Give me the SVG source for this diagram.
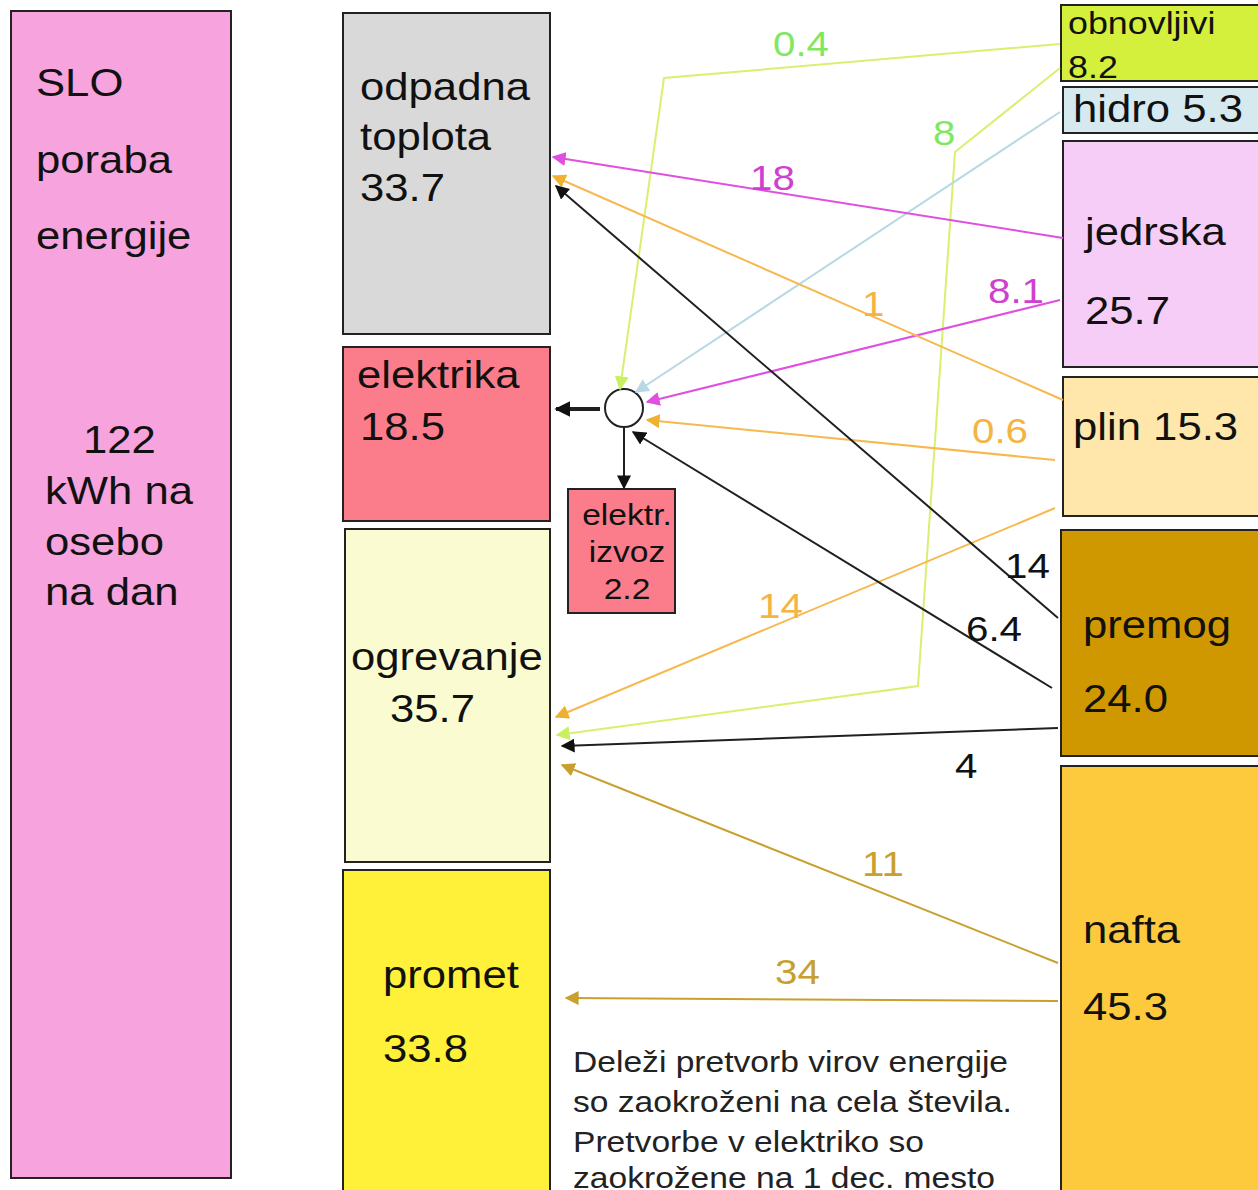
<svg xmlns="http://www.w3.org/2000/svg" width="1258" height="1190" viewBox="0 0 1258 1190">
<style>
.box{stroke:#222;stroke-width:2}
text{font-family:"Liberation Sans",Arial,sans-serif;fill:#111}
.big{font-size:39px}
.mid{font-size:30px}
.lbl{font-size:36px}
.ln{fill:none;stroke-width:2}
.g{stroke:#d8f070}
.b{stroke:#b8d8e4}
.m{stroke:#e050e0}
.o{stroke:#f8b850}
.k{stroke:#202020}
.n{stroke:#c8a030}
</style>
<defs>
<marker id="aB" viewBox="0 0 10 10" refX="9" refY="5" markerWidth="14" markerHeight="14" orient="auto" markerUnits="userSpaceOnUse"><path d="M0,0L10,5L0,10z" fill="#b8d8e4"/></marker>
<marker id="aM" viewBox="0 0 10 10" refX="9" refY="5" markerWidth="14" markerHeight="14" orient="auto" markerUnits="userSpaceOnUse"><path d="M0,0L10,5L0,10z" fill="#e050e0"/></marker>
<marker id="aO" viewBox="0 0 10 10" refX="9" refY="5" markerWidth="14" markerHeight="14" orient="auto" markerUnits="userSpaceOnUse"><path d="M0,0L10,5L0,10z" fill="#f0b030"/></marker>
<marker id="aK" viewBox="0 0 10 10" refX="9" refY="5" markerWidth="14" markerHeight="14" orient="auto" markerUnits="userSpaceOnUse"><path d="M0,0L10,5L0,10z" fill="#111"/></marker>
<marker id="aK2" viewBox="0 0 10 10" refX="9" refY="5" markerWidth="16" markerHeight="16" orient="auto" markerUnits="userSpaceOnUse"><path d="M0,0L10,5L0,10z" fill="#111"/></marker>
<marker id="aN" viewBox="0 0 10 10" refX="9" refY="5" markerWidth="14" markerHeight="14" orient="auto" markerUnits="userSpaceOnUse"><path d="M0,0L10,5L0,10z" fill="#c8a030"/></marker>
<marker id="aGL" viewBox="0 0 10 10" refX="9" refY="5" markerWidth="14" markerHeight="14" orient="auto" markerUnits="userSpaceOnUse"><path d="M0,0L10,5L0,10z" fill="#c8f060"/></marker>
</defs>

<g id="slo">
<rect class="box" x="11" y="11" width="220" height="1167" fill="#f7a3dd"/>
<text class="big" transform="translate(36 96) scale(1.12 1)">SLO</text>
<text class="big" transform="translate(36 173) scale(1.12 1)">poraba</text>
<text class="big" transform="translate(36 249) scale(1.12 1)">energije</text>
<text class="big" transform="translate(83 453) scale(1.12 1)">122</text>
<text class="big" transform="translate(45 504) scale(1.12 1)">kWh na</text>
<text class="big" transform="translate(45 555) scale(1.12 1)">osebo</text>
<text class="big" transform="translate(45 605) scale(1.12 1)">na dan</text>
</g>

<g id="odpadna">
<rect class="box" x="343" y="13" width="207" height="321" fill="#d9d9d9"/>
<text class="big" transform="translate(360 100) scale(1.12 1)">odpadna</text>
<text class="big" transform="translate(360 150) scale(1.12 1)">toplota</text>
<text class="big" transform="translate(360 201) scale(1.12 1)">33.7</text>
</g>

<g id="elektrika">
<rect class="box" x="343" y="347" width="207" height="174" fill="#fb7d8b"/>
<text class="big" transform="translate(357 388) scale(1.12 1)">elektrika</text>
<text class="big" transform="translate(360 440) scale(1.12 1)">18.5</text>
</g>

<g id="ogrevanje">
<rect class="box" x="345" y="529" width="205" height="333" fill="#fbfbd2"/>
<text class="big" transform="translate(351 670) scale(1.12 1)">ogrevanje</text>
<text class="big" transform="translate(390 722) scale(1.12 1)">35.7</text>
</g>

<g id="promet">
<rect class="box" x="343" y="870" width="207" height="330" fill="#fff03a"/>
<text class="big" transform="translate(383 988) scale(1.12 1)">promet</text>
<text class="big" transform="translate(383 1062) scale(1.12 1)">33.8</text>
</g>

<g id="izvoz">
<rect class="box" x="568" y="489" width="107" height="124" fill="#fb7d8b"/>
<text class="mid" text-anchor="middle" transform="translate(627 525) scale(1.12 1)">elektr.</text>
<text class="mid" text-anchor="middle" transform="translate(627 562) scale(1.12 1)">izvoz</text>
<text class="mid" text-anchor="middle" transform="translate(627 599) scale(1.12 1)">2.2</text>
</g>

<g id="vozlisce">
<circle cx="624" cy="408" r="19" fill="#fff" stroke="#222" stroke-width="2"/>
</g>

<g id="obnovljivi">
<rect class="box" x="1061" y="5" width="200" height="76" fill="#d4f03c"/>
<text style="font-size:32px" transform="translate(1068 34) scale(1.12 1)">obnovljivi</text>
<text style="font-size:32px" transform="translate(1068 78) scale(1.12 1)">8.2</text>
</g>

<g id="hidro">
<rect class="box" x="1063" y="87" width="198" height="46" fill="#d6e9ef"/>
<text class="big" transform="translate(1073 122) scale(1.12 1)">hidro 5.3</text>
</g>

<g id="jedrska">
<rect class="box" x="1063" y="141" width="198" height="226" fill="#f6cdf6"/>
<text class="big" transform="translate(1085 245) scale(1.12 1)">jedrska</text>
<text class="big" transform="translate(1085 324) scale(1.12 1)">25.7</text>
</g>

<g id="plin">
<rect class="box" x="1063" y="377" width="198" height="139" fill="#ffe6aa"/>
<text class="big" transform="translate(1073 440) scale(1.12 1)">plin 15.3</text>
</g>

<g id="premog">
<rect class="box" x="1061" y="530" width="200" height="226" fill="#d09800"/>
<text class="big" transform="translate(1083 638) scale(1.12 1)">premog</text>
<text class="big" transform="translate(1083 712) scale(1.12 1)">24.0</text>
</g>

<g id="nafta">
<rect class="box" x="1061" y="766" width="200" height="430" fill="#fdca3e"/>
<text class="big" transform="translate(1083 943) scale(1.12 1)">nafta</text>
<text class="big" transform="translate(1083 1020) scale(1.12 1)">45.3</text>
</g>

<g id="connectors">
<polyline class="ln g" points="1060,44 664,78 620,389" marker-end="url(#aGL)"/>
<polyline class="ln g" points="1060,68 955,152 918,686 557,735" marker-end="url(#aGL)"/>
<line class="ln b" x1="1060" y1="112" x2="636" y2="392" marker-end="url(#aB)"/>
<line class="ln m" x1="1063" y1="238" x2="553" y2="157" marker-end="url(#aM)"/>
<line class="ln m" x1="1060" y1="300" x2="647" y2="402" marker-end="url(#aM)"/>
<line class="ln o" x1="1063" y1="400" x2="553" y2="176" marker-end="url(#aO)"/>
<line class="ln o" x1="1055" y1="460" x2="647" y2="420" marker-end="url(#aO)"/>
<line class="ln o" x1="1055" y1="508" x2="556" y2="717" marker-end="url(#aO)"/>
<line class="ln k" x1="1058" y1="618" x2="556" y2="186" marker-end="url(#aK)"/>
<line class="ln k" x1="1052" y1="688" x2="633" y2="432" marker-end="url(#aK)"/>
<line class="ln k" x1="1058" y1="728" x2="562" y2="746" marker-end="url(#aK)"/>
<line class="ln n" x1="1058" y1="963" x2="562" y2="765" marker-end="url(#aN)"/>
<line class="ln n" x1="1058" y1="1001" x2="566" y2="998" marker-end="url(#aN)"/>
<line class="ln k" x1="600" y1="409" x2="556" y2="409" style="stroke-width:4" marker-end="url(#aK2)"/>
<line class="ln k" x1="624" y1="428" x2="624" y2="488" marker-end="url(#aK)"/>
</g>

<g id="labels">
<text class="lbl" style="fill:#80e860" transform="translate(773 56) scale(1.12 1)">0.4</text>
<text class="lbl" style="fill:#80e860" transform="translate(933 145) scale(1.12 1)">8</text>
<text class="lbl" style="fill:#d040d0" transform="translate(750 190) scale(1.12 1)">18</text>
<text class="lbl" style="fill:#d040d0" transform="translate(988 303) scale(1.12 1)">8.1</text>
<text class="lbl" style="fill:#f4b444" transform="translate(862 316) scale(1.12 1)">1</text>
<text class="lbl" style="fill:#f4b444" transform="translate(972 443) scale(1.12 1)">0.6</text>
<text class="lbl" style="fill:#f4b444" transform="translate(758 618) scale(1.12 1)">14</text>
<text class="lbl" transform="translate(1005 578) scale(1.12 1)">14</text>
<text class="lbl" transform="translate(966 641) scale(1.12 1)">6.4</text>
<text class="lbl" transform="translate(955 778) scale(1.12 1)">4</text>
<text class="lbl" style="fill:#c8a030" transform="translate(862 876) scale(1.12 1)">11</text>
<text class="lbl" style="fill:#c8a030" transform="translate(775 984) scale(1.12 1)">34</text>
</g>

<g id="opomba">
<text class="mid" style="fill:#222" transform="translate(573 1072) scale(1.12 1)">Deleži pretvorb virov energije</text>
<text class="mid" style="fill:#222" transform="translate(573 1112) scale(1.12 1)">so zaokroženi na cela števila.</text>
<text class="mid" style="fill:#222" transform="translate(573 1152) scale(1.12 1)">Pretvorbe v elektriko so</text>
<text class="mid" style="fill:#222" transform="translate(573 1188) scale(1.12 1)">zaokrožene na 1 dec. mesto</text>
</g>
</svg>
